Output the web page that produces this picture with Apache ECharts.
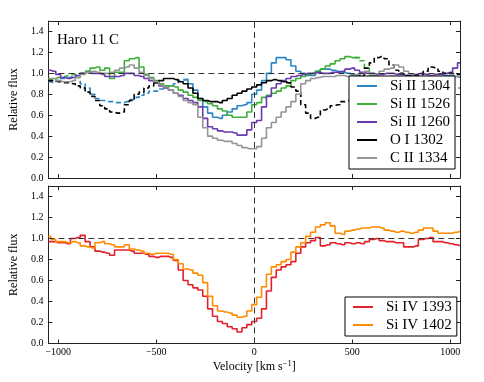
<!DOCTYPE html>
<html>
<head>
<meta charset="utf-8">
<script src="https://cdn.jsdelivr.net/npm/echarts@6/dist/echarts.min.js"></script>
<style>html,body{margin:0;padding:0;background:#fff}#c{width:484px;height:382px}</style>
</head>
<body>
<div id="c"></div>
<script>
// ---------------- data ----------------
const velocity = [
 -1050,-1025,-1000,-975,-950,-925,-900,-875,-850,-825,
 -800,-775,-750,-725,-700,-675,-650,-625,-600,-575,
 -550,-525,-500,-475,-450,-425,-400,-375,-350,-325,
 -300,-275,-250,-225,-200,-175,-150,-125,-100,-75,
 -50,-25,0,25,50,75,100,125,150,175,
 200,225,250,275,300,325,350,375,400,425,
 450,475,500,525,550,575,600,625,650,675,
 700,725,750,775,800,825,850,875,900,925,
 950,975,1000,1025,1050];

const siII1304 = [
 0.92,0.91,0.93,0.95,0.96,0.97,0.96,0.90,0.86,0.80,
 0.76,0.74,0.73,0.73,0.72,0.72,0.73,0.75,0.77,0.79,
 0.81,0.83,0.83,0.85,0.87,0.88,0.90,0.93,0.94,0.90,
 0.84,0.76,0.68,0.62,0.58,0.57,0.60,0.63,0.66,0.69,
 0.70,0.72,0.80,0.84,0.93,1.00,1.10,1.15,1.15,1.13,
 1.07,1.02,1.00,0.98,0.98,1.02,1.04,1.04,1.03,1.02,
 1.01,1.00,0.99,0.98,0.97,0.96,0.95,0.95,0.96,0.96,
 0.97,0.97,0.96,0.96,0.95,0.96,0.97,0.97,0.96,0.96,
 0.97,0.98,0.98,0.97,0.96];

const siII1526 = [
 0.94,0.95,0.96,0.97,0.98,0.99,1.00,1.00,1.02,1.05,
 1.06,1.03,1.05,0.95,1.01,1.01,1.12,1.14,1.15,1.06,
 0.99,0.96,0.93,0.90,0.88,0.88,0.87,0.84,0.82,0.79,
 0.77,0.74,0.73,0.71,0.69,0.66,0.64,0.60,0.58,0.58,
 0.58,0.63,0.70,0.72,0.77,0.79,0.81,0.83,0.86,0.88,
 0.93,0.95,0.97,0.99,1.00,1.02,1.04,1.07,1.09,1.12,
 1.14,1.16,1.15,1.15,1.12,1.05,0.98,0.95,0.93,0.92,
 0.91,0.90,0.90,0.89,0.89,0.88,0.88,0.88,0.87,0.87,
 0.87,0.86,0.86,0.86,0.86];

const siII1260 = [
 1.03,1.02,0.99,0.96,0.95,0.96,0.98,1.00,1.01,1.00,
 1.00,0.99,0.97,0.97,0.97,0.98,1.00,1.00,0.98,0.97,
 0.95,0.93,0.91,0.88,0.86,0.84,0.81,0.79,0.76,0.74,
 0.72,0.68,0.57,0.49,0.47,0.45,0.44,0.44,0.43,0.41,
 0.41,0.46,0.53,0.55,0.68,0.78,0.86,0.90,0.93,0.95,
 0.97,0.98,0.99,1.00,1.00,1.01,1.00,1.00,1.01,1.01,
 1.02,1.04,1.05,1.03,1.01,1.00,1.00,0.99,0.99,1.00,
 1.00,0.99,0.99,0.98,0.98,0.99,1.00,0.99,0.98,0.99,
 0.99,1.00,1.01,1.05,1.10];

const oI1302 = [
 0.93,0.93,0.92,0.91,0.91,0.90,0.88,0.86,0.82,0.78,
 0.74,0.69,0.66,0.63,0.62,0.63,0.70,0.74,0.80,0.82,
 0.86,0.88,0.91,0.93,0.95,0.95,0.94,0.92,0.90,0.86,
 0.81,0.76,0.74,0.73,0.73,0.72,0.74,0.76,0.79,0.81,
 0.83,0.85,0.87,0.89,0.91,0.93,0.94,0.93,0.92,0.91,
 0.87,0.83,0.70,0.62,0.57,0.58,0.65,0.66,0.69,0.70,
 0.73,0.74,0.84,0.90,0.98,1.05,1.10,1.15,1.16,1.14,
 1.08,1.03,1.00,0.98,0.98,0.98,0.99,1.02,1.06,1.05,
 1.02,1.00,1.00,0.99,0.99];

const cII1334 = [
 0.95,0.95,0.93,0.92,0.92,0.93,0.96,0.99,1.01,1.02,
 1.01,1.00,1.00,1.01,1.03,1.05,1.06,1.08,1.05,1.01,
 0.98,0.95,0.92,0.89,0.87,0.84,0.81,0.78,0.74,0.72,
 0.70,0.58,0.48,0.40,0.38,0.36,0.35,0.35,0.33,0.31,
 0.29,0.28,0.28,0.30,0.38,0.48,0.53,0.58,0.63,0.68,
 0.73,0.80,0.90,0.93,0.95,0.96,0.97,0.97,0.97,0.98,
 0.98,0.97,0.98,0.99,1.00,1.02,1.00,0.98,1.02,1.04,
 1.05,1.08,1.06,1.02,0.99,0.97,0.96,0.96,0.97,0.97,
 0.96,0.96,0.97,0.97,0.97];

const siIV1393 = [
 0.97,0.97,0.96,0.96,0.95,1.00,1.01,1.03,0.97,0.92,
 0.88,0.87,0.86,0.84,0.89,0.89,0.89,0.88,0.86,0.86,
 0.85,0.83,0.82,0.83,0.83,0.82,0.79,0.70,0.60,0.56,
 0.53,0.51,0.45,0.33,0.26,0.21,0.19,0.16,0.14,0.11,
 0.15,0.18,0.21,0.24,0.33,0.50,0.63,0.70,0.73,0.75,
 0.78,0.86,0.92,0.96,0.98,1.01,0.93,0.94,0.96,0.95,
 0.94,0.96,0.95,0.96,0.95,0.97,0.99,1.00,0.98,0.97,
 0.97,0.96,0.96,0.92,0.92,0.93,0.99,1.00,1.01,0.97,
 0.97,0.96,0.95,0.94,0.93];

const siIV1402 = [
 1.02,0.99,0.97,0.97,0.96,0.97,0.96,0.93,0.92,0.91,
 0.96,0.97,0.95,0.94,0.92,0.92,0.94,0.90,0.89,0.88,
 0.86,0.85,0.86,0.86,0.86,0.85,0.80,0.76,0.71,0.70,
 0.67,0.65,0.58,0.45,0.36,0.31,0.30,0.29,0.27,0.25,
 0.26,0.31,0.37,0.44,0.54,0.66,0.73,0.75,0.78,0.80,
 0.87,0.92,0.96,1.02,1.06,1.11,1.13,1.15,1.12,1.05,
 1.04,1.07,1.08,1.09,1.10,1.10,1.11,1.11,1.10,1.08,
 1.07,1.06,1.07,1.06,1.05,1.06,1.08,1.10,1.10,1.07,
 1.05,1.05,1.05,1.06,1.07];

// velocity ranges drawn dashed (contaminated / masked regions)
const maskSiII1304 = [[-1050, -350]];
const maskSiII1526 = [[-1050, -850], [525, 1050]];
const maskSiII1260 = [];
const maskOI1302   = [[-1050, -500], [175, 1050]];
const maskCII1334  = [];
const maskSiIV1393 = [];
const maskSiIV1402 = [];

const xTicks = [-1000, -500, 0, 500, 1000];
const yTicks = [0.0, 0.2, 0.4, 0.6, 0.8, 1.0, 1.2, 1.4];
const panelTitle = 'Haro 11 C';
const continuumLevel = 1.0;
const zeroVelocity = 0;

// ---------------- build ----------------
const FONT = 'Liberation Serif';
const COL = {
  blue: '#2b86c8', green: '#3cb039', purple: '#6a3bb0', black: '#000000',
  gray: '#959595', red: '#e3202b', orange: '#ff8c00'
};

function isMasked(v, ranges) {
  return ranges.some(r => v >= r[0] && v <= r[1]);
}

function buildSeries(name, vals, ranges, color, gi) {
  const solid = [], dashed = [];
  for (let i = 0; i < velocity.length; i++) {
    const v = velocity[i];
    const m = isMasked(v, ranges);
    const prevM = i > 0 ? isMasked(velocity[i - 1], ranges) : m;
    const nextM = i < velocity.length - 1 ? isMasked(velocity[i + 1], ranges) : m;
    const inSolid = !m || !prevM || !nextM;
    solid.push([v, inSolid ? vals[i] : null]);
    dashed.push([v, m ? vals[i] : null]);
  }
  const base = {
    type: 'line', step: 'middle', showSymbol: false, symbol: 'none',
    xAxisIndex: gi * 2, yAxisIndex: gi * 2, connectNulls: false,
    animation: false, silent: true
  };
  const out = [Object.assign({}, base, {
    name: name, data: solid, color: color,
    itemStyle: { color: color },
    lineStyle: { color: color, width: 1.6, type: 'solid' }
  })];
  if (ranges.length) {
    out.push(Object.assign({}, base, {
      name: name + ' (masked)', data: dashed, color: color,
      itemStyle: { color: color },
      lineStyle: { color: color, width: 1.6, type: [5, 3] }
    }));
  }
  return out;
}

const topSeries = [
  ['Si II 1304', siII1304, maskSiII1304, COL.blue],
  ['Si II 1526', siII1526, maskSiII1526, COL.green],
  ['Si II 1260', siII1260, maskSiII1260, COL.purple],
  ['O I 1302', oI1302, maskOI1302, COL.black],
  ['C II 1334', cII1334, maskCII1334, COL.gray]
];
const botSeries = [
  ['Si IV 1393', siIV1393, maskSiIV1393, COL.red],
  ['Si IV 1402', siIV1402, maskSiIV1402, COL.orange]
];

let series = [];
topSeries.forEach(s => { series = series.concat(buildSeries(s[0], s[1], s[2], s[3], 0)); });
botSeries.forEach(s => { series = series.concat(buildSeries(s[0], s[1], s[2], s[3], 1)); });

// reference lines (continuum and systemic velocity)
[0, 1].forEach(gi => {
  series.push({
    type: 'line', name: 'ref' + gi, data: [], xAxisIndex: gi * 2, yAxisIndex: gi * 2,
    silent: true, animation: false, z: 1,
    markLine: {
      silent: true, symbol: 'none', animation: false,
      label: { show: false },
      lineStyle: { color: '#333', width: 1, type: [6, 4] },
      data: [{ yAxis: continuumLevel }, { xAxis: zeroVelocity }]
    }
  });
});

const axisLine = { show: true, onZero: false, lineStyle: { color: '#222', width: 1 } };
function xAx(gi, pos, labels) {
  return {
    type: 'value', gridIndex: gi, position: pos, min: -1050, max: 1050,
    axisLine: axisLine,
    axisTick: { show: true, inside: true, length: 4, customValues: xTicks, lineStyle: { color: '#222' } },
    axisLabel: {
      show: labels, customValues: xTicks, margin: 4,
      fontFamily: FONT, fontSize: 10, color: '#000',
      formatter: v => v < 0 ? '\u2212' + Math.abs(v) : String(v)
    },
    splitLine: { show: false },
    name: labels ? 'Velocity [km s{sup|\u22121}]' : '',
    nameLocation: 'middle', nameGap: 16,
    nameTextStyle: {
      fontFamily: FONT, fontSize: 12, color: '#000',
      rich: { sup: { fontFamily: FONT, fontSize: 8.5, color: '#000', verticalAlign: 'top', padding: [0, 0, 5, 0] } }
    }
  };
}
function yAx(gi, pos, labels) {
  return {
    type: 'value', gridIndex: gi, position: pos, min: 0, max: 1.5,
    axisLine: axisLine,
    axisTick: { show: true, inside: true, length: 4, customValues: yTicks, lineStyle: { color: '#222' } },
    axisLabel: {
      show: labels, customValues: yTicks, margin: 5,
      fontFamily: FONT, fontSize: 10, color: '#000',
      formatter: v => v.toFixed(1)
    },
    splitLine: { show: false },
    name: labels ? 'Relative flux' : '',
    nameLocation: 'middle', nameGap: 20, nameRotate: 90,
    nameTextStyle: { fontFamily: FONT, fontSize: 12, color: '#000' }
  };
}

const legendBase = {
  orient: 'vertical', selectedMode: false, icon: 'rect',
  itemWidth: 20, itemHeight: 2, itemGap: 2,
  backgroundColor: '#fff', borderColor: '#000', borderWidth: 1, borderRadius: 0,
  itemStyle: { borderWidth: 0 },
  lineStyle: { type: 'solid', width: 0 },
  textStyle: { fontFamily: FONT, fontSize: 15, color: '#000', lineHeight: 16, padding: [0, 0, 0, 8] }
};

const option = {
  animation: false,
  backgroundColor: '#fff',
  title: {
    text: panelTitle, left: 52, top: 28,
    textStyle: { fontFamily: FONT, fontSize: 15, fontWeight: 'normal', color: '#000' }
  },
  grid: [
    { left: 43, right: 24, top: 21, height: 157 },
    { left: 43, right: 24, top: 186, height: 157.5 }
  ],
  xAxis: [xAx(0, 'bottom', false), xAx(0, 'top', false), xAx(1, 'bottom', true), xAx(1, 'top', false)],
  yAxis: [yAx(0, 'left', true), yAx(0, 'right', false), yAx(1, 'left', true), yAx(1, 'right', false)],
  legend: [
    Object.assign({}, legendBase, {
      data: topSeries.map(s => s[0]), left: 349, top: 76, padding: [2, 5, 3, 8]
    }),
    Object.assign({}, legendBase, {
      data: botSeries.map(s => s[0]), left: 345, top: 297, padding: [2, 5, 3, 8]
    })
  ],
  series: series
};

const chart = echarts.init(document.getElementById('c'), null, { renderer: 'canvas' });
chart.setOption(option);
</script>
</body>
</html>
